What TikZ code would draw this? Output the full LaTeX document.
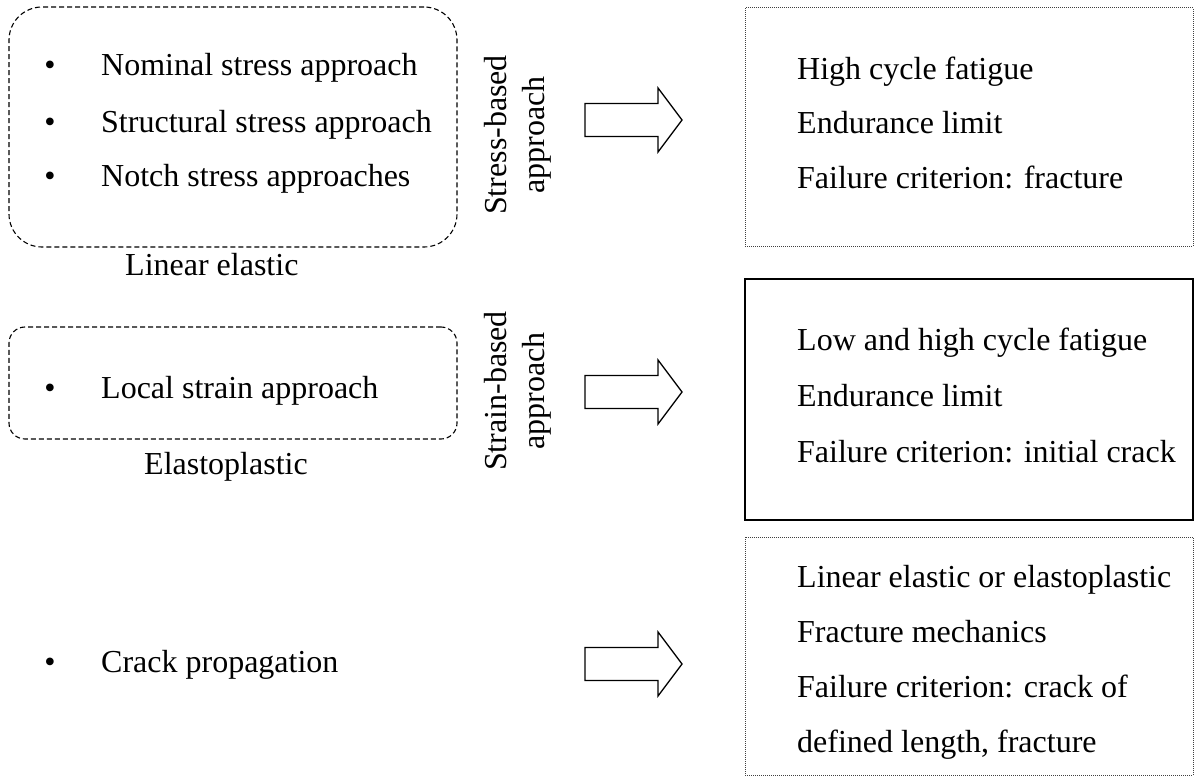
\documentclass[tikz,border=0pt]{standalone}
\usepackage{fontspec}
\setmainfont{Liberation Serif}
\begin{document}
\begin{tikzpicture}[x=1pt,y=-1pt,
  font=\fontsize{32}{38}\selectfont,
  grp/.style={draw, dash pattern=on 5pt off 3pt, line width=1.1pt},
  res/.style={draw=black!75, dash pattern=on 1pt off 1pt, line width=1pt},
  solidres/.style={draw, line width=2pt},
  txt/.style={anchor=base west, inner sep=0pt},
  blt/.style={anchor=base, inner sep=0pt},
  vlabel/.style={rotate=90, align=center, inner sep=0pt},
  blockarrow/.style={draw, line width=1.3pt, line join=miter, fill=white},
  barrow/.pic={\draw[blockarrow] (0,-16.5) -- (73,-16.5) -- (73,-32) -- (97,0) -- (73,32) -- (73,16.5) -- (0,16.5) -- cycle;}
]
\useasboundingbox (0,0) rectangle (1195,776);

% left group boxes
\node[grp, rounded corners=33pt, minimum width=448pt, minimum height=240pt, inner sep=0pt] (g1) at (233,127) {};
\node[grp, rounded corners=16pt, minimum width=448pt, minimum height=112pt, inner sep=0pt] (g2) at (233,383) {};

\node[blt] (b1) at (50,76) {\textbullet};
\node[blt] (b2) at (50,132) {\textbullet};
\node[blt] (b3) at (50,186) {\textbullet};
\node[txt] (t1) at (101,76) {Nominal stress approach};
\node[txt] (t2) at (101,132) {Structural stress approach};
\node[txt] (t3) at (101,186) {Notch stress approaches};
\node[txt] (le) at (125,275) {Linear elastic};

\node[blt] (b4) at (50,398) {\textbullet};
\node[txt] (t4) at (101,398) {Local strain approach};
\node[txt] (ep) at (144,474) {Elastoplastic};

\node[blt] (b5) at (50,672) {\textbullet};
\node[txt] (t5) at (101,672) {Crack propagation};

% vertical labels
\node[vlabel] (sl) at (518,135) {Stress-based\\approach};
\node[vlabel] (el) at (518,391) {Strain-based\\approach};

% block arrows
\pic at (585,120) {barrow};
\pic at (585,392) {barrow};
\pic at (585,664) {barrow};

% right result boxes
\node[res, minimum width=448pt, minimum height=238pt, inner sep=0pt] (r1) at (969,127) {};
\node[solidres, minimum width=448pt, minimum height=241pt, inner sep=0pt] (r2) at (969,399.5) {};
\node[res, minimum width=448pt, minimum height=238pt, inner sep=0pt] (r3) at (969,656) {};

\node[txt] (r1a) at (797,80) {High cycle fatigue};
\node[txt] (r1b) at (797,133) {Endurance limit};
\node[txt] (r1c) at (797,188) {Failure criterion: fracture};

\node[txt] (r2a) at (797,350) {Low and high cycle fatigue};
\node[txt] (r2b) at (797,406) {Endurance limit};
\node[txt] (r2c) at (797,462) {Failure criterion: initial crack};

\node[txt] (r3a) at (797,587) {Linear elastic or elastoplastic};
\node[txt] (r3b) at (797,642) {Fracture mechanics};
\node[txt] (r3c) at (797,697) {Failure criterion: crack of};
\node[txt] (r3d) at (797,752) {defined length, fracture};
\end{tikzpicture}
\end{document}
